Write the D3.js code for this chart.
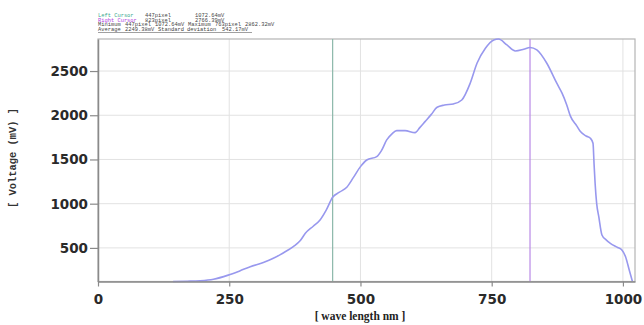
<!DOCTYPE html>
<html>
<head>
<meta charset="utf-8">
<script src="https://cdn.jsdelivr.net/npm/d3@7"></script>
<style>
  html, body { margin: 0; padding: 0; background: #fff; }
  svg { display: block; }
</style>
</head>
<body>
<svg id="chart" width="644" height="325"></svg>
<script>
// Spectrum samples: wavelength (nm) and detector voltage (mV)
const wavelength = [143, 170, 194, 220, 248, 270, 290, 315, 334, 352, 372, 385, 395, 410, 423, 435, 447, 460, 474, 487,
  500, 512, 531, 540, 550, 560, 569, 585, 604, 613, 623, 635, 646, 660, 677, 693, 709, 722, 738, 754,
  763, 779, 795, 811, 823, 836, 855, 874, 884, 893, 900, 912, 919, 930, 938, 943, 945, 947, 950, 954,
  960, 968, 976, 990, 998, 1005, 1012, 1018];
const voltage = [120, 123, 128, 145, 192, 240, 287, 335, 382, 440, 514, 580, 665, 745, 816, 930, 1073, 1130, 1186, 1300,
  1419, 1494, 1532, 1600, 1721, 1790, 1826, 1826, 1803, 1860, 1928, 2010, 2090, 2115, 2128, 2173, 2362, 2588, 2758, 2852,
  2862, 2795, 2727, 2746, 2766, 2739, 2588, 2362, 2250, 2117, 1990, 1880, 1815, 1765, 1740, 1683, 1450, 1231, 1000, 853,
  646, 590, 552, 505, 476, 400, 250, 122];

const xTicks = [0, 250, 500, 750, 1000];
const yTicks = [500, 1000, 1500, 2000, 2500];
const xDomain = [0, 1023];
const yDomain = [120, 2862.32];

// Cursor positions (wavelength)
const cursorLeft = 447;
const cursorRight = 823;

// Readout rows: [text, x, colour]
const readout = [
  [["Left Cursor", 98, "#3aa890"], ["447pixel", 145, "#444"], ["1072.64mV", 195, "#444"]],
  [["Right Cursor", 98, "#b040e0"], ["823pixel", 145, "#444"], ["2766.39mV", 195, "#444"]],
  [["Minimum", 98, "#444"], ["447pixel", 125, "#444"], ["1072.64mV", 155, "#444"], ["Maximum", 188, "#444"], ["763pixel", 215, "#444"], ["2862.32mV", 245, "#444"]],
  [["Average", 98, "#444"], ["2249.38mV", 125, "#444"], ["Standard deviation", 158, "#444"], ["542.17mV", 222, "#444"]]
];

const svg = d3.select("#chart");
const plotLeft = 98, plotRight = 635, plotTop = 39, plotBottom = 281.5;

const x = d3.scaleLinear().domain(xDomain).range([plotLeft, plotRight]);
const y = d3.scaleLinear().domain(yDomain).range([plotBottom, plotTop]);

// Gridlines
svg.append("g").selectAll("line").data(xTicks.filter(d => d > 0)).join("line")
  .attr("x1", d => x(d)).attr("x2", d => x(d)).attr("y1", plotTop).attr("y2", plotBottom)
  .attr("stroke", "#e2e2e2").attr("stroke-width", 1);
svg.append("g").selectAll("line").data(yTicks).join("line")
  .attr("x1", plotLeft).attr("x2", plotRight).attr("y1", d => y(d)).attr("y2", d => y(d))
  .attr("stroke", "#e2e2e2").attr("stroke-width", 1);

// Plot frame
svg.append("rect").attr("x", plotLeft).attr("y", plotTop)
  .attr("width", plotRight - plotLeft).attr("height", plotBottom - plotTop)
  .attr("fill", "none").attr("stroke", "#b4b4b4").attr("stroke-width", 1.2);

// Cursors
svg.append("line").attr("x1", x(cursorLeft)).attr("x2", x(cursorLeft)).attr("y1", plotTop).attr("y2", plotBottom)
  .attr("stroke", "#8cb8aa").attr("stroke-width", 1.2);
svg.append("line").attr("x1", x(cursorRight)).attr("x2", x(cursorRight)).attr("y1", plotTop).attr("y2", plotBottom)
  .attr("stroke", "#b98ae6").attr("stroke-width", 1.2);

// Spectrum curve
const pts = wavelength.map((w, i) => [w, voltage[i]]);
const line = d3.line().x(d => x(d[0])).y(d => y(d[1])).curve(d3.curveMonotoneX);
svg.append("path").datum(pts).attr("d", line)
  .attr("fill", "none").attr("stroke", "#9898ee").attr("stroke-width", 1.6);

// Axes
const tickFont = "bold 13.5px 'DejaVu Sans', Verdana, sans-serif";
const xAxis = svg.append("g").attr("transform", `translate(0,${plotBottom})`)
  .call(d3.axisBottom(x).tickValues(xTicks).tickFormat(d3.format("d")).tickSizeInner(5).tickSizeOuter(0).tickPadding(8));
const yAxis = svg.append("g").attr("transform", `translate(${plotLeft},0)`)
  .call(d3.axisLeft(y).tickValues(yTicks).tickFormat(d3.format("d")).tickSizeInner(8).tickSizeOuter(0).tickPadding(2));
[xAxis, yAxis].forEach(g => {
  g.select(".domain").attr("stroke", "#8a8a8a").attr("stroke-width", 1.5);
  g.selectAll(".tick line").attr("stroke", "#8a8a8a").attr("stroke-width", 1.2);
  g.selectAll(".tick text").style("font", tickFont).attr("fill", "#2a2a2a");
});

// Axis titles
svg.append("text").attr("x", 360).attr("y", 320).attr("text-anchor", "middle")
  .style("font", "bold 11.5px 'Liberation Serif', 'Times New Roman', serif").attr("fill", "#222")
  .text("[ wave length nm ]");
svg.append("text").attr("transform", "translate(16,158) rotate(-90)").attr("text-anchor", "middle")
  .style("font", "bold 10.4px 'Liberation Mono', 'Courier New', monospace").attr("fill", "#333")
  .text("[ Voltage (mV) ]");

// Readout block
const rowY = [16.5, 21.5, 26.3, 31];
readout.forEach((row, i) => {
  const t = svg.append("text").attr("y", rowY[i])
    .style("font", "5.4px 'Liberation Mono', 'Courier New', monospace");
  row.forEach(([s, px, c]) => t.append("tspan").attr("x", px).attr("fill", c).text(s));
});
svg.append("line").attr("x1", 98).attr("x2", 252).attr("y1", 32.5).attr("y2", 32.5)
  .attr("stroke", "#777").attr("stroke-width", 0.7);
</script>
</body>
</html>
